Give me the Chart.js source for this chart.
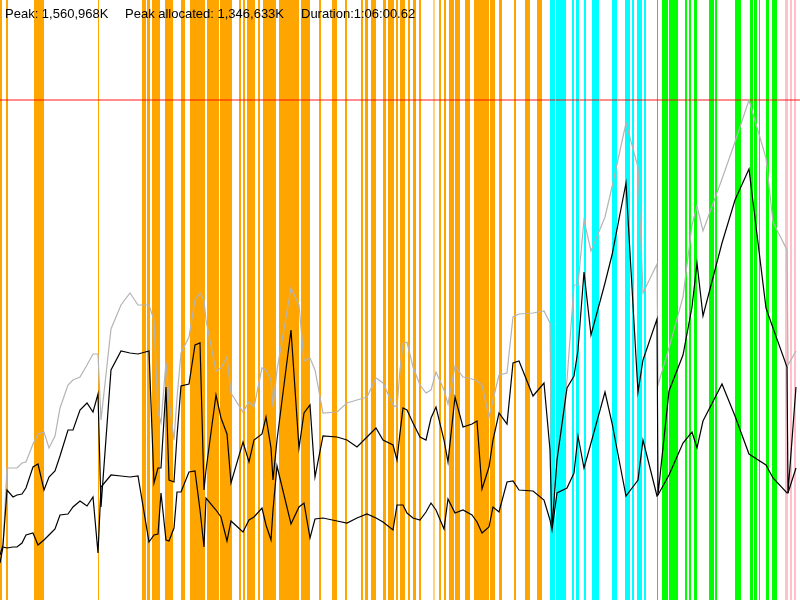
<!DOCTYPE html>
<html>
<head>
<meta charset="utf-8">
<script src="https://cdn.jsdelivr.net/npm/chart.js@4.4.1/dist/chart.umd.min.js"></script>
<style>
  html, body { margin: 0; padding: 0; background: #fff; }
  #wrap { position: relative; width: 800px; height: 600px; }
</style>
</head>
<body>
<div id="wrap"><canvas id="chart"></canvas></div>
<script>
// sample times (timeline units, 0..800 covers the whole run)
const sampleTimes = [
  0, 3, 7, 13, 17, 22, 26, 33, 38, 44,
  49, 55, 60, 68, 73, 80, 87, 93, 98, 101,
  111, 121, 130, 138, 149, 154, 158, 161, 166, 169,
  174, 177, 181, 189, 195, 200, 204, 206, 216, 221,
  227, 231, 243, 249, 254, 262, 266, 271, 273, 277,
  291, 299, 304, 310, 315, 323, 337, 347, 357, 367,
  376, 383, 393, 397, 400, 403, 407, 413, 420, 426,
  431, 436, 444, 448, 455, 463, 472, 477, 482, 489,
  493, 499, 507, 513, 519, 533, 544, 550, 552, 557,
  567, 574, 578, 584, 591, 605, 612, 626, 638, 643,
  657, 658, 669, 683, 692, 697, 703, 722, 735, 749,
  766, 773, 787, 788, 796
];

// memory, in units where 500 = peak (1,560,968K)
const totalMem = [
  50, 55, 132, 132, 132, 137, 138, 156, 166, 168,
  152, 164, 192, 215, 220, 223, 235, 246, 246, 180,
  271, 295, 307, 295, 295, 280, 188, 177, 238, 200,
  160, 202, 247, 263, 300, 307, 300, 280, 229, 232,
  243, 207, 188, 198, 193, 232, 230, 220, 193, 230,
  312, 295, 239, 242, 230, 187, 188, 197, 200, 203,
  222, 217, 195, 193, 230, 256, 258, 233, 215, 207,
  210, 228, 210, 196, 234, 223, 221, 219, 215, 183,
  200, 225, 227, 283, 286, 287, 289, 277, 77, 143,
  220, 315, 315, 380, 349, 383, 413, 477, 433, 307,
  336, 215, 252, 303, 375, 394, 369, 421, 458, 500,
  442, 378, 350, 235, 249
];

const allocMem = [
  45, 55, 110, 103, 105, 106, 112, 133, 136, 110,
  123, 129, 144, 170, 170, 190, 197, 188, 206, 93,
  230, 249, 247, 246, 249, 117, 132, 132, 213, 120,
  118, 164, 214, 216, 255, 257, 110, 130, 205, 182,
  166, 117, 158, 138, 160, 166, 183, 152, 120, 160,
  270, 152, 187, 195, 123, 164, 163, 160, 153, 163,
  172, 160, 155, 140, 167, 192, 190, 177, 163, 160,
  182, 193, 160, 138, 203, 173, 176, 179, 111, 133,
  160, 187, 176, 237, 239, 204, 217, 150, 72, 140,
  212, 224, 250, 328, 265, 317, 345, 417, 208, 240,
  281, 105, 209, 245, 293, 337, 284, 357, 400, 431,
  292, 272, 233, 107, 213
];

const liveMem = [
  37, 53, 52, 53, 53, 57, 65, 67, 55, 60,
  65, 71, 85, 86, 93, 99, 94, 103, 47, 113,
  125, 124, 123, 124, 58, 65, 66, 107, 60, 59,
  72, 108, 108, 128, 129, 90, 53, 102, 90, 83,
  59, 79, 68, 80, 83, 92, 75, 60, 90, 134,
  76, 93, 97, 62, 81, 82, 79, 77, 82, 86,
  82, 78, 70, 95, 95, 95, 87, 82, 80, 88,
  97, 90, 71, 101, 87, 90, 85, 78, 67, 73,
  93, 88, 118, 119, 110, 109, 100, 80, 70, 107,
  112, 127, 164, 132, 157, 208, 177, 104, 120, 160,
  104, 105, 125, 157, 168, 152, 179, 216, 184, 146,
  135, 122, 107, 107, 132
];

const peakLevel = 500;

// phase spans on the timeline [start, end]
const orangeSpans = [
  [0, 2], [6, 8], [34, 44], [98, 99], [142, 146], [147, 150], [152, 160], [165, 173],
  [181, 185], [190, 205], [207, 219], [220, 232], [239, 241], [243, 245], [247, 255],
  [258, 260], [263, 276], [279, 299], [301, 310], [319, 321], [332, 337], [345, 347],
  [361, 363], [365, 368], [371, 376], [383, 386], [388, 394], [396, 398], [400, 405],
  [408, 410], [413, 416], [419, 421], [439, 441], [444, 446], [449, 454], [455, 460],
  [465, 470], [474, 489], [490, 495], [499, 502], [514, 516], [525, 530], [537, 542]
];
const lightOrangeSpans = [[433, 435], [38, 39], [199, 200]];
const cyanSpans = [
  [550, 555], [556, 566], [572, 574], [576, 579], [584, 586], [592, 599],
  [612, 617], [625, 630], [632, 634], [637, 642], [644, 646]
];
const greenSpans = [
  [657, 658], [662, 668], [669, 678], [685, 687], [689, 691], [694, 697], [709, 714],
  [715, 717], [735, 741], [750, 753], [754, 757], [759, 760], [766, 769], [772, 777]
];
const pinkSpans = [[785, 788], [790, 792], [794, 796]];

const headerTexts = ['Peak: 1,560,968K', 'Peak allocated: 1,346,633K', 'Duration:1:06:00.62'];

const phases = [
  { color: '#ffa500', spans: orangeSpans },
  { color: 'rgba(255,165,0,0.5)', spans: lightOrangeSpans },
  { color: '#00ffff', spans: cyanSpans },
  { color: '#00ff00', spans: greenSpans },
  { color: '#ffc0cb', spans: pinkSpans }
];

// vertical phase bands behind the lines
const phaseBands = {
  id: 'phaseBands',
  beforeDatasetsDraw(chart) {
    const { ctx, chartArea, scales: { x } } = chart;
    ctx.save();
    phases.forEach(p => {
      ctx.fillStyle = p.color;
      p.spans.forEach(([a, b]) => {
        const x0 = x.getPixelForValue(a);
        const x1 = x.getPixelForValue(b);
        ctx.fillRect(x0, chartArea.top, x1 - x0, chartArea.bottom - chartArea.top);
      });
    });
    ctx.restore();
  }
};

// summary text at top left
const header = {
  id: 'header',
  afterDraw(chart) {
    const ctx = chart.ctx;
    const xs = [5, 125, 301];
    ctx.save();
    ctx.font = '13px "Liberation Sans", Arial, sans-serif';
    ctx.fillStyle = '#000';
    ctx.textBaseline = 'alphabetic';
    headerTexts.forEach((t, i) => ctx.fillText(t, xs[i], 18));
    ctx.restore();
  }
};

const toPoints = arr => sampleTimes.map((t, i) => ({ x: t, y: arr[i] }));

const lineStyle = { pointRadius: 0, tension: 0, fill: false };

new Chart(document.getElementById('chart'), {
  type: 'line',
  data: {
    datasets: [
      { ...lineStyle, label: 'Allocated', data: toPoints(allocMem), borderColor: '#000', borderWidth: 1.2 },
      { ...lineStyle, label: 'Live', data: toPoints(liveMem), borderColor: '#000', borderWidth: 1.2 },
      { ...lineStyle, label: 'Total', data: toPoints(totalMem), borderColor: '#b4b4b4', borderWidth: 1.2 },
      { ...lineStyle, label: 'Peak', data: [{ x: 0, y: peakLevel }, { x: 800, y: peakLevel }],
        borderColor: 'rgba(255,0,0,0.6)', borderWidth: 1.5 }
    ]
  },
  options: {
    responsive: true,
    maintainAspectRatio: false,
    animation: false,
    layout: { padding: 0 },
    plugins: {
      legend: { display: false },
      tooltip: { enabled: false },
      title: { display: false }
    },
    scales: {
      x: { type: 'linear', min: 0, max: 800, display: false },
      y: { type: 'linear', min: 0, max: 600, display: false }
    }
  },
  plugins: [phaseBands, header]
});
</script>
</body>
</html>
